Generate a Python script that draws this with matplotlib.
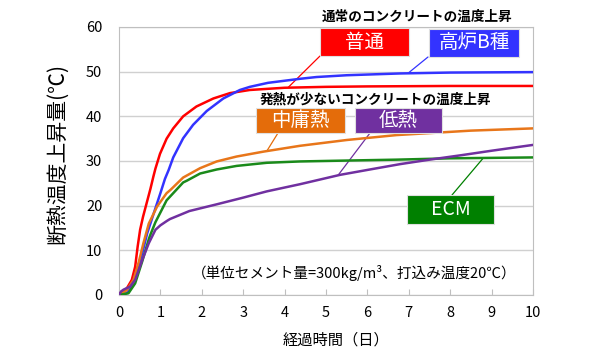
import numpy as np
import matplotlib
matplotlib.use("Agg")
import matplotlib.pyplot as plt
from matplotlib.patches import Rectangle

plt.rcParams['font.family'] = ['Noto Sans CJK JP', 'DejaVu Sans']

# 普通
red_days = [0, 0.03, 0.19, 0.31, 0.39, 0.45, 0.51, 0.58, 0.64, 0.76, 0.83, 0.88, 0.99, 1.15, 1.31,
            1.55, 1.87, 2.28, 2.68, 3.16, 4.0, 5.0, 6.0, 8.0, 10.0]
red_vals = [0, 0.4, 1.5, 3.4, 6.3, 10.8, 14.6, 17.5, 19.6, 23.8, 26.5, 28.3, 31.6, 35.0, 37.3,
            40.0, 42.2, 44.0, 45.2, 45.9, 46.4, 46.6, 46.7, 46.8, 46.8]
# 高炉B種
blue_days = [0, 0.19, 0.31, 0.43, 0.56, 0.68, 0.84, 1.0, 1.11, 1.2, 1.31, 1.55, 1.79, 2.12, 2.52,
             2.92, 3.16, 3.6, 4.37, 4.77, 5.5, 6.79, 8.0, 10.0]
blue_vals = [0, 0.4, 2.2, 5.6, 9.3, 13.8, 18.3, 22.8, 26.0, 28.0, 30.8, 35.1, 38.1, 41.2, 44.0,
             45.9, 46.6, 47.5, 48.4, 48.8, 49.2, 49.6, 49.8, 49.9]
# 中庸熱
orange_days = [0, 0.19, 0.35, 0.47, 0.59, 0.72, 0.92, 1.15, 1.24, 1.55, 1.96, 2.36, 2.84, 3.49, 4.37,
               5.5, 6.7, 7.6, 8.5, 10.0]
orange_vals = [0, 1.1, 3.4, 7.1, 11.6, 16.0, 19.8, 22.8, 23.5, 26.3, 28.4, 29.9, 31.0, 32.1, 33.4,
               34.7, 35.8, 36.3, 36.8, 37.3]
# 低熱
purple_days = [0, 0.05, 0.11, 0.27, 0.39, 0.56, 0.72, 0.88, 1.0, 1.16, 1.23, 1.7, 2.36, 3.0, 3.57,
               4.37, 5.34, 6.0, 6.79, 7.5, 8.27, 9.0, 10.0]
purple_vals = [0, 0.8, 1.2, 1.9, 3.4, 7.8, 11.6, 14.6, 15.6, 16.6, 17.0, 18.8, 20.3, 21.8, 23.2,
               24.8, 26.9, 28.0, 29.3, 30.3, 31.3, 32.3, 33.6]
# ECM
green_days = [0, 0.23, 0.39, 0.56, 0.72, 0.75, 0.88, 1.15, 1.55, 1.64, 1.96, 2.36, 2.84, 3.57, 4.37,
              5.5, 6.7, 8.0, 10.0]
green_vals = [0, 0.4, 2.6, 7.5, 12.5, 13.3, 16.3, 21.2, 25.2, 25.6, 27.2, 28.1, 28.9, 29.6, 29.9,
              30.1, 30.3, 30.6, 30.8]

x_ticks = list(range(0, 11))
y_ticks = [0, 10, 20, 30, 40, 50, 60]

W, H = 600, 350


def px(x, y):
    return x / W, 1 - y / H


fig = plt.figure(figsize=(6, 3.5), dpi=100)
ax = fig.add_axes([119 / W, 1 - 295 / H, 414 / W, 268 / H])

series = [
    (red_days, red_vals, '#FF0000'),
    (blue_days, blue_vals, '#3333FF'),
    (orange_days, orange_vals, '#E8761A'),
    (green_days, green_vals, '#1A8A1A'),
    (purple_days, purple_vals, '#7030A0'),
]
for d, v, c in series:
    ax.plot(d, v, color=c, lw=1.8, zorder=3, solid_joinstyle='round')

ax.set_xlim(0, 10)
ax.set_ylim(0, 60)
ax.set_xticks(x_ticks)
ax.set_yticks(y_ticks)
ax.grid(axis='y', color='#D0D0D0', lw=1)
ax.set_axisbelow(True)
for s in ax.spines.values():
    s.set_color('#BFBFBF')
ax.tick_params(axis='x', direction='in', length=4, color='#BFBFBF', labelsize=10.5, pad=8)
ax.tick_params(axis='y', length=0, labelsize=10.5, pad=12)

ax.set_ylabel('断熱温度上昇量(℃)', fontsize=15)
ax.yaxis.set_label_coords((68 - 119) / 414, (295 - 154) / 268)
ax.set_xlabel('経過時間（日）', fontsize=11)
ax.xaxis.set_label_coords((336 - 119) / 414, (295 - 332) / 268)

# headers
fig.text(*px(417, 17), '通常のコンクリートの温度上昇', ha='center', va='center',
         fontsize=9.8, fontweight='bold')
fig.text(*px(375, 100), '発熱が少ないコンクリートの温度上昇', ha='center', va='center',
         fontsize=9.8, fontweight='bold')
fig.text(*px(354, 273), '（単位セメント量=300kg/m³、打込み温度20℃）', ha='center', va='center',
         fontsize=10.5)

# label boxes: (text, box, color, curve point, line start)
labels = [
    ('普通', (320, 28, 409, 56), '#FF0000', (red_days, red_vals, 4.08), (320, 56)),
    ('高炉B種', (429, 29, 519, 57), '#3333FF', (blue_days, blue_vals, 6.98), (428, 57)),
    ('中庸熱', (256, 108, 345, 133), '#E46C0A', (orange_days, orange_vals, 3.57), (278, 133)),
    ('低熱', (355, 108, 442, 133), '#7030A0', (purple_days, purple_vals, 5.29), (370, 133)),
    ('ECM', (407, 195, 494, 224), '#008000', (green_days, green_vals, 8.8), (452, 195)),
]
for txt, (x0, y0, x1, y1), c, (d, v, xd), start in labels:
    ax.annotate('', xy=(xd, np.interp(xd, d, v)), xycoords='data',
                xytext=px(*start), textcoords='figure fraction',
                arrowprops=dict(arrowstyle='-', color=c, lw=0.9, shrinkA=0, shrinkB=0),
                zorder=2)
    fx0, fy1 = px(x0, y1)
    fig.add_artist(Rectangle((fx0, fy1), (x1 - x0) / W, (y1 - y0) / H,
                             transform=fig.transFigure, facecolor=c,
                             edgecolor='#E0E0E0', lw=0.8, zorder=5))
    fig.text(*px((x0 + x1) / 2, (y0 + y1) / 2), txt, ha='center', va='center',
             color='white', fontsize=14, zorder=6)

fig.savefig('out.png', dpi=100)
